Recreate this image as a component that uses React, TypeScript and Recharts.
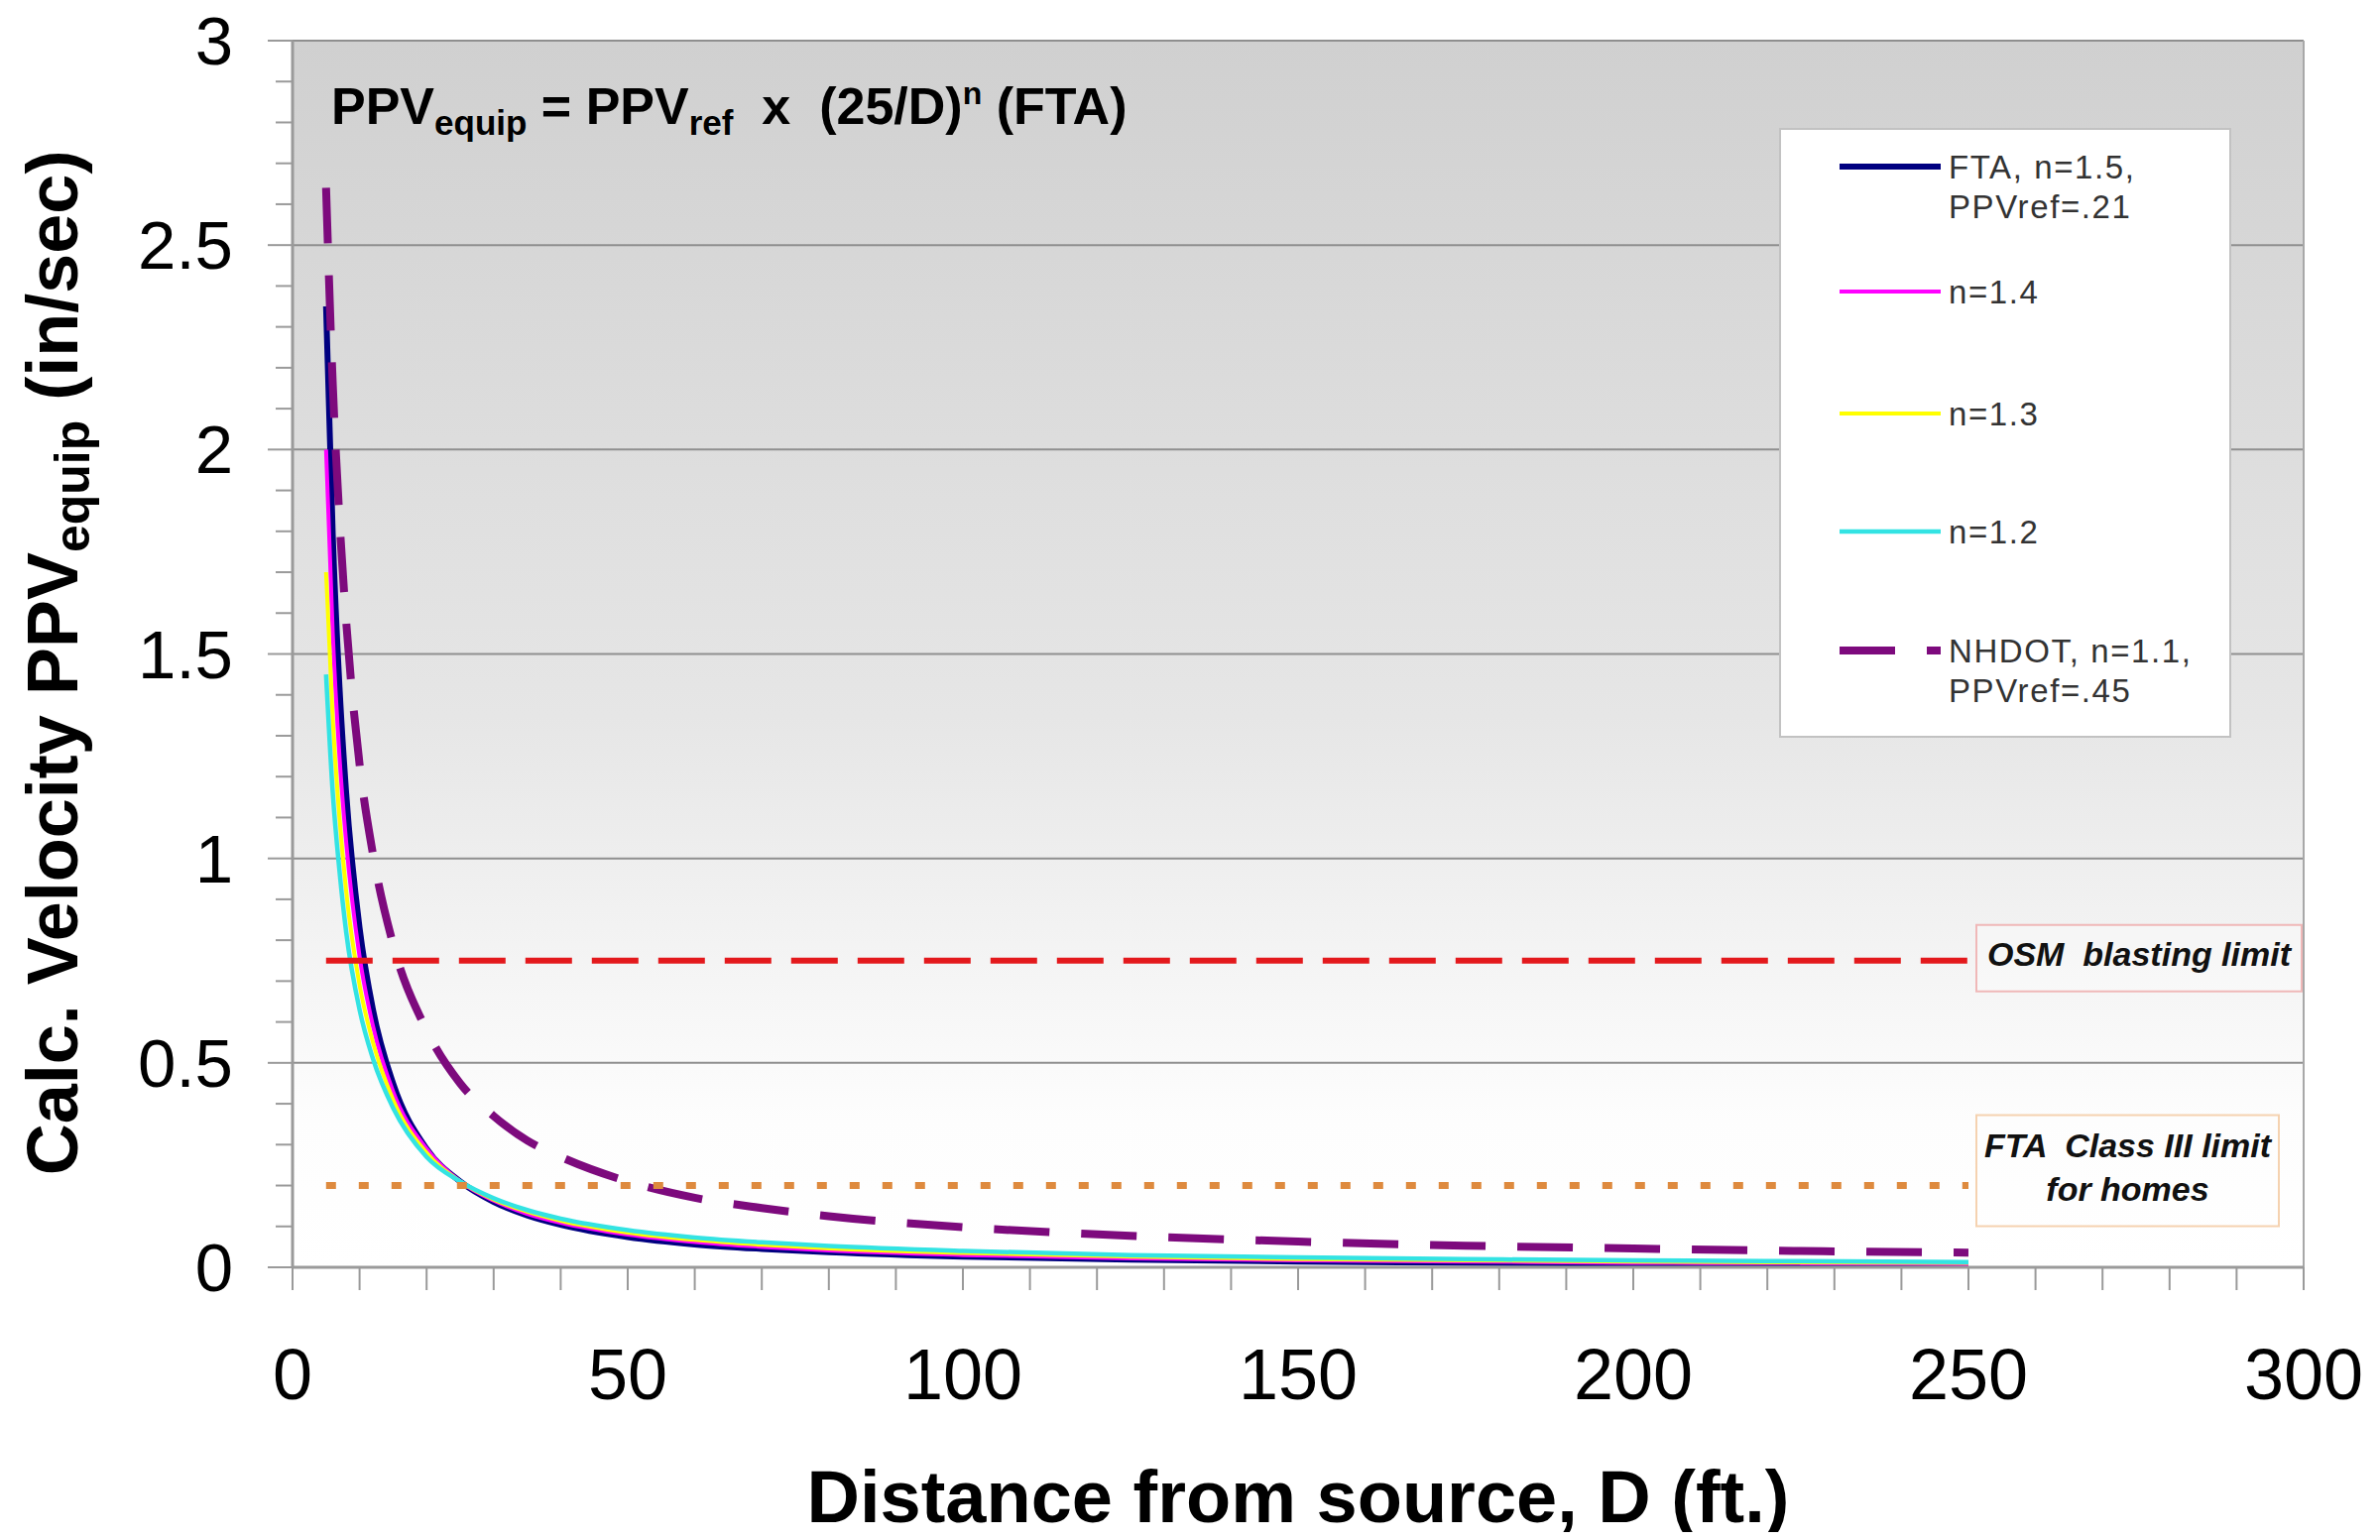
import React from 'react';
import {
  LineChart,
  Line,
  XAxis,
  YAxis,
  CartesianGrid,
  ReferenceLine,
  ReferenceArea,
  Legend,
} from 'recharts';

// ---------- data ----------
const distances = [5, 6, 7, 8, 10, 12, 15, 20, 25, 30, 35, 40, 50, 60, 70, 80, 100, 125, 150, 175, 200, 225, 250];
const ftaN15 = [2.35, 1.79, 1.42, 1.16, 0.83, 0.63, 0.45, 0.29, 0.21, 0.16, 0.127, 0.104, 0.074, 0.056, 0.045, 0.037, 0.026, 0.019, 0.014, 0.011, 0.009, 0.008, 0.007];
const seriesN14 = [2.0, 1.55, 1.25, 1.04, 0.76, 0.59, 0.43, 0.29, 0.21, 0.163, 0.131, 0.109, 0.08, 0.062, 0.05, 0.041, 0.03, 0.022, 0.017, 0.014, 0.011, 0.01, 0.008];
const seriesN13 = [1.7, 1.34, 1.1, 0.92, 0.69, 0.55, 0.41, 0.28, 0.21, 0.166, 0.136, 0.114, 0.085, 0.067, 0.055, 0.046, 0.035, 0.026, 0.02, 0.017, 0.014, 0.012, 0.011];
const seriesN12 = [1.45, 1.16, 0.97, 0.82, 0.63, 0.51, 0.39, 0.27, 0.21, 0.169, 0.14, 0.119, 0.091, 0.073, 0.061, 0.052, 0.04, 0.03, 0.024, 0.02, 0.017, 0.015, 0.013];
const nhdotN11 = [2.64, 2.16, 1.83, 1.58, 1.23, 1.01, 0.79, 0.58, 0.45, 0.37, 0.31, 0.27, 0.21, 0.17, 0.145, 0.125, 0.098, 0.077, 0.063, 0.053, 0.046, 0.04, 0.036];

const seriesKeys = ['fta', 'n14', 'n13', 'n12', 'nhdot'];
const seriesNames = ['FTA, n=1.5,\nPPVref=.21', 'n=1.4', 'n=1.3', 'n=1.2', 'NHDOT, n=1.1,\nPPVref=.45'];

const osmLimit = 0.75;
const ftaClassIIILimit = 0.2;
const limitStart = 5;
const limitEnd = 250;

const xMajorTicks = [0, 50, 100, 150, 200, 250, 300];
const xTickLabels = ['0', '50', '100', '150', '200', '250', '300'];
const xAllTicks = [0, 10, 20, 30, 40, 50, 60, 70, 80, 90, 100, 110, 120, 130, 140, 150, 160, 170, 180, 190, 200, 210, 220, 230, 240, 250, 260, 270, 280, 290, 300];
const yMajorTicks = [0, 0.5, 1, 1.5, 2, 2.5, 3];
const yTickLabels = ['0', '0.5', '1', '1.5', '2', '2.5', '3'];
const yAllTicks = [0, 0.1, 0.2, 0.3, 0.4, 0.5, 0.6, 0.7, 0.8, 0.9, 1, 1.1, 1.2, 1.3, 1.4, 1.5, 1.6, 1.7, 1.8, 1.9, 2, 2.1, 2.2, 2.3, 2.4, 2.5, 2.6, 2.7, 2.8, 2.9, 3];

const data = distances.map((d, i) => ({
  d,
  fta: ftaN15[i],
  n14: seriesN14[i],
  n13: seriesN13[i],
  n12: seriesN12[i],
  nhdot: nhdotN11[i],
}));

// ---------- styles ----------
const FONT = "'Liberation Sans', Arial, Helvetica, sans-serif";
const seriesColors = ['#000080', '#ff00ff', '#ffff00', '#33e3e3', '#7d0a7d'];
const seriesWidths = [6, 4, 4, 4.5, 8];
const seriesDashes = [undefined, undefined, undefined, undefined, '56 32'];
const AXIS_GRAY = '#9a9a9a';

// legend row layout (relative to legend box)
const legendLineY = [37, 163, 286, 405, 525];

const YTick = (props: any) => {
  const { x, y, payload } = props;
  const idx = yMajorTicks.indexOf(payload.value);
  const major = idx >= 0;
  return (
    <g>
      <line x1={x - (major ? 25 : 17)} x2={x} y1={y} y2={y} stroke={AXIS_GRAY} strokeWidth={2} />
      {major && (
        <text x={x - 60} y={y} dy={24} textAnchor="end" fontSize={69} fontFamily={FONT} fill="#000">
          {yTickLabels[idx]}
        </text>
      )}
    </g>
  );
};

const XTick = (props: any) => {
  const { x, y, payload } = props;
  const idx = xMajorTicks.indexOf(payload.value);
  return (
    <g>
      <line x1={x} x2={x} y1={y} y2={y + 23} stroke={AXIS_GRAY} strokeWidth={2} />
      {idx >= 0 && (
        <text x={x} y={y + 133} textAnchor="middle" fontSize={72} fontFamily={FONT} fill="#000">
          {xTickLabels[idx]}
        </text>
      )}
    </g>
  );
};

const YLabel = (props: any) => {
  const vb = props.viewBox || { x: 0, y: 41, width: 295, height: 1237 };
  const cx = vb.x + 78;
  const cy = vb.y + vb.height / 2 + 9;
  return (
    <text
      x={cx}
      y={cy}
      transform={`rotate(-90, ${cx}, ${cy})`}
      textAnchor="middle"
      fontSize={72}
      fontWeight="bold"
      fontFamily={FONT}
      fill="#000"
    >
      Calc. Velocity PPV
      <tspan fontSize={50} dy={12}>equip</tspan>
      <tspan dy={-12}> (in/sec)</tspan>
    </text>
  );
};

const XLabel = (props: any) => {
  const vb = props.viewBox || { x: 295, y: 1278, width: 2028, height: 275 };
  return (
    <text
      x={vb.x + vb.width / 2}
      y={vb.y + 257}
      textAnchor="middle"
      fontSize={74}
      fontWeight="bold"
      fontFamily={FONT}
      fill="#000"
    >
      Distance from source, D (ft.)
    </text>
  );
};

const FormulaLabel = (props: any) => {
  const vb = props.viewBox || { x: 295, y: 41 };
  return (
    <text
      x={vb.x + 39}
      y={vb.y + 84}
      fontSize={52}
      fontWeight="bold"
      fontFamily={FONT}
      fill="#000"
      style={{ whiteSpace: 'pre' }}
    >
      PPV
      <tspan fontSize={35} dy={11}>equip</tspan>
      <tspan dy={-11}>{' = PPV'}</tspan>
      <tspan fontSize={35} dy={11}>ref</tspan>
      <tspan dy={-11}>{'  x  (25/D)'}</tspan>
      <tspan fontSize={32} dy={-20}>n</tspan>
      <tspan dy={20}>{' (FTA)'}</tspan>
    </text>
  );
};

const OsmLabel = (props: any) => {
  const vb = props.viewBox;
  if (!vb) return null;
  const left = vb.x + vb.width + 8;
  const lineY = vb.y;
  const w = 328;
  const h = 67;
  return (
    <g>
      <rect x={left} y={lineY - 36} width={w} height={h} fill="#ffffff" fillOpacity={0.3} stroke="#f0b8b8" strokeWidth={2} />
      <text
        x={left + w / 2}
        y={lineY + 5}
        textAnchor="middle"
        fontSize={34}
        fontWeight="bold"
        fontStyle="italic"
        fontFamily={FONT}
        fill="#111"
        style={{ whiteSpace: 'pre' }}
      >
        {'OSM  blasting limit'}
      </text>
    </g>
  );
};

const FtaLimitLabel = (props: any) => {
  const vb = props.viewBox;
  if (!vb) return null;
  const left = vb.x + vb.width + 8;
  const lineY = vb.y;
  const w = 305;
  const h = 112;
  return (
    <g>
      <rect x={left} y={lineY - 71} width={w} height={h} fill="#ffffff" fillOpacity={0.3} stroke="#f5d2b0" strokeWidth={2} />
      <text
        textAnchor="middle"
        fontSize={34}
        fontWeight="bold"
        fontStyle="italic"
        fontFamily={FONT}
        fill="#111"
        style={{ whiteSpace: 'pre' }}
      >
        <tspan x={left + w / 2} y={lineY - 29}>{'FTA  Class III limit'}</tspan>
        <tspan x={left + w / 2} y={lineY + 15}>for homes</tspan>
      </text>
    </g>
  );
};

const LegendBox = (props: any) => {
  const payload = props.payload || [];
  return (
    <div
      style={{
        position: 'relative',
        width: 456,
        height: 615,
        background: '#ffffff',
        border: '2px solid #c2c2c2',
        boxSizing: 'border-box',
        fontFamily: FONT,
      }}
    >
      {payload.map((entry: any) => {
        const i = seriesKeys.indexOf(entry.dataKey);
        if (i < 0) return null;
        const ly = legendLineY[i];
        return (
          <React.Fragment key={entry.dataKey}>
            <svg
              width={106}
              height={20}
              style={{ position: 'absolute', left: 57, top: ly - 10 }}
            >
              <line
                x1={2}
                x2={104}
                y1={10}
                y2={10}
                stroke={seriesColors[i]}
                strokeWidth={seriesWidths[i]}
                strokeDasharray={seriesDashes[i]}
              />
            </svg>
            <div
              style={{
                position: 'absolute',
                left: 169,
                top: ly - 19,
                fontSize: 33,
                lineHeight: '40px',
                letterSpacing: '1.6px',
                color: '#333',
                whiteSpace: 'pre-line',
              }}
            >
              {seriesNames[i]}
            </div>
          </React.Fragment>
        );
      })}
    </div>
  );
};

export default function App() {
  return (
    <div style={{ margin: -8, width: 2400, height: 1553, position: 'relative', background: '#fff' }}>
      <svg width={0} height={0} style={{ position: 'absolute' }}>
        <defs>
          <linearGradient id="plotBg" x1="0" y1="0" x2="0" y2="1">
            <stop offset="0%" stopColor="#d0d0d0" />
            <stop offset="55%" stopColor="#e6e6e6" />
            <stop offset="88%" stopColor="#fdfdfd" />
            <stop offset="100%" stopColor="#ffffff" />
          </linearGradient>
        </defs>
      </svg>
      <LineChart
        width={2400}
        height={1553}
        data={data}
        margin={{ top: 41, right: 77, left: 0, bottom: 0 }}
      >
        <CartesianGrid
          vertical={false}
          horizontalValues={yMajorTicks}
          stroke="#8f8f8f"
          strokeWidth={2}
          fill="url(#plotBg)"
          fillOpacity={1}
        />
        <XAxis
          dataKey="d"
          type="number"
          domain={[0, 300]}
          ticks={xAllTicks}
          interval={0}
          tickSize={0}
          tickMargin={0}
          tickLine={false}
          tick={<XTick />}
          height={275}
          stroke={AXIS_GRAY}
          axisLine={{ stroke: AXIS_GRAY, strokeWidth: 3 }}
          allowDataOverflow
          label={(p: any) => <XLabel {...p} />}
        />
        <YAxis
          type="number"
          domain={[0, 3]}
          ticks={yAllTicks}
          interval={0}
          tickSize={0}
          tickMargin={0}
          tickLine={false}
          tick={<YTick />}
          width={295}
          axisLine={{ stroke: AXIS_GRAY, strokeWidth: 3 }}
          allowDataOverflow
          label={(p: any) => <YLabel {...p} />}
        />
        <ReferenceArea
          x1={0}
          x2={300}
          y1={0}
          y2={3}
          fill="none"
          stroke="none"
          label={(p: any) => <FormulaLabel {...p} />}
        />
        <ReferenceLine x={300} stroke="#a8a8a8" strokeWidth={2} />
        <Legend
          layout="vertical"
          align="center"
          verticalAlign="middle"
          content={(p: any) => <LegendBox {...p} />}
          wrapperStyle={{ left: 1794, top: 129, width: 456, height: 615 }}
        />
        {seriesKeys.map((k, i) => (
          <Line
            key={k}
            dataKey={k}
            name={seriesNames[i]}
            type="monotone"
            stroke={seriesColors[i]}
            strokeWidth={seriesWidths[i]}
            strokeDasharray={seriesDashes[i]}
            dot={false}
            activeDot={false}
            isAnimationActive={false}
          />
        ))}
        <ReferenceLine
          segment={[
            { x: limitStart, y: osmLimit },
            { x: limitEnd, y: osmLimit },
          ]}
          stroke="#e3191c"
          strokeWidth={6}
          strokeDasharray="47 20"
          label={(p: any) => <OsmLabel {...p} />}
        />
        <ReferenceLine
          segment={[
            { x: limitStart, y: ftaClassIIILimit },
            { x: limitEnd, y: ftaClassIIILimit },
          ]}
          stroke="#de8a3e"
          strokeWidth={7}
          strokeDasharray="10 23"
          label={(p: any) => <FtaLimitLabel {...p} />}
        />
      </LineChart>
    </div>
  );
}
